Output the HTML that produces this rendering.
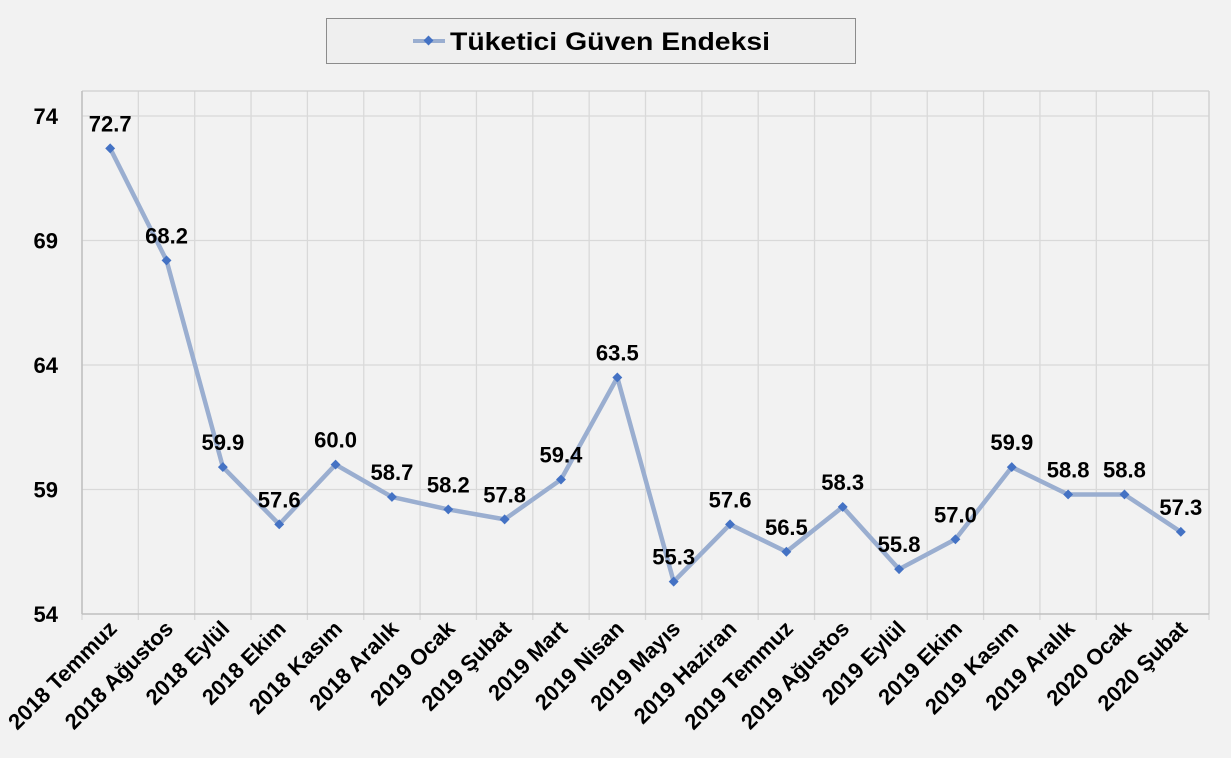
<!DOCTYPE html>
<html><head><meta charset="utf-8"><style>
html,body{margin:0;padding:0;background:#f2f2f2;}
svg{display:block;font-family:"Liberation Sans",sans-serif;font-weight:bold;}
</style></head><body>
<svg id="c" width="1231" height="758" viewBox="0 0 1231 758" xmlns="http://www.w3.org/2000/svg">
<rect width="1231" height="758" fill="#f2f2f2"/>
<rect x="326.5" y="18.5" width="529" height="45" fill="#efefef" stroke="#8c8c8c" stroke-width="1"/>
<line x1="413" y1="41" x2="445" y2="41" stroke="#9aaed0" stroke-width="4"/>
<rect x="425" y="37" width="7" height="7" fill="#4472c4" transform="rotate(45 428.5 40.5)"/>
<text x="450" y="50" font-size="25" textLength="320" lengthAdjust="spacingAndGlyphs" fill="#000">Tüketici Güven Endeksi</text>
<g id="g"></g>
</svg>
<script>
var vals=[72.7,68.2,59.9,57.6,60.0,58.7,58.2,57.8,59.4,63.5,55.3,57.6,56.5,58.3,55.8,57.0,59.9,58.8,58.8,57.3];
var labs=["2018 Temmuz","2018 Ağustos","2018 Eylül","2018 Ekim","2018 Kasım","2018 Aralık","2019 Ocak","2019 Şubat","2019 Mart","2019 Nisan","2019 Mayıs","2019 Haziran","2019 Temmuz","2019 Ağustos","2019 Eylül","2019 Ekim","2019 Kasım","2019 Aralık","2020 Ocak","2020 Şubat"];
var L=82,R=1209,T=91,B=614,w=(R-L)/20;
function Y(v){return B-(v-54)*24.9;}
var s='';
for(var i=0;i<=20;i++){var x=L+i*w;s+='<line x1="'+x+'" y1="'+T+'" x2="'+x+'" y2="'+(B+6)+'" stroke="#d9d9d9" stroke-width="1.3"/>';}
[59,64,69,74].forEach(function(v){s+='<line x1="'+L+'" y1="'+Y(v)+'" x2="'+R+'" y2="'+Y(v)+'" stroke="#d9d9d9" stroke-width="1.3"/>';});
s+='<line x1="'+L+'" y1="'+T+'" x2="'+R+'" y2="'+T+'" stroke="#d0d0d0" stroke-width="1.3"/>';
s+='<line x1="'+R+'" y1="'+T+'" x2="'+R+'" y2="'+B+'" stroke="#d0d0d0" stroke-width="1.3"/>';
s+='<line x1="'+L+'" y1="'+T+'" x2="'+L+'" y2="'+B+'" stroke="#bfbfbf" stroke-width="1.5"/>';
s+='<line x1="'+L+'" y1="'+B+'" x2="'+R+'" y2="'+B+'" stroke="#bfbfbf" stroke-width="1.5"/>';
[54,59,64,69,74].forEach(function(v){s+='<text x="58" y="'+(Y(v)+8)+'" font-size="22" text-anchor="end">'+v+'</text>';});
var pts=vals.map(function(v,i){return (L+w*(i+0.5))+','+Y(v);}).join(' ');
s+='<polyline points="'+pts+'" fill="none" stroke="#9aaed0" stroke-width="4.5" stroke-linejoin="round"/>';
vals.forEach(function(v,i){var x=L+w*(i+0.5),y=Y(v);
s+='<rect x="'+(x-3.5)+'" y="'+(y-3.5)+'" width="7" height="7" fill="#4472c4" transform="rotate(45 '+x+' '+y+')"/>';
s+='<text x="'+x+'" y="'+(y-17)+'" font-size="22" text-anchor="middle">'+v.toFixed(1)+'</text>';
var lx=x+8,ly=630;
s+='<text x="'+lx+'" y="'+ly+'" font-size="22" text-anchor="end" transform="rotate(-45 '+lx+' '+ly+')">'+labs[i]+'</text>';
});
document.getElementById('g').innerHTML=s;
</script>
</body></html>
